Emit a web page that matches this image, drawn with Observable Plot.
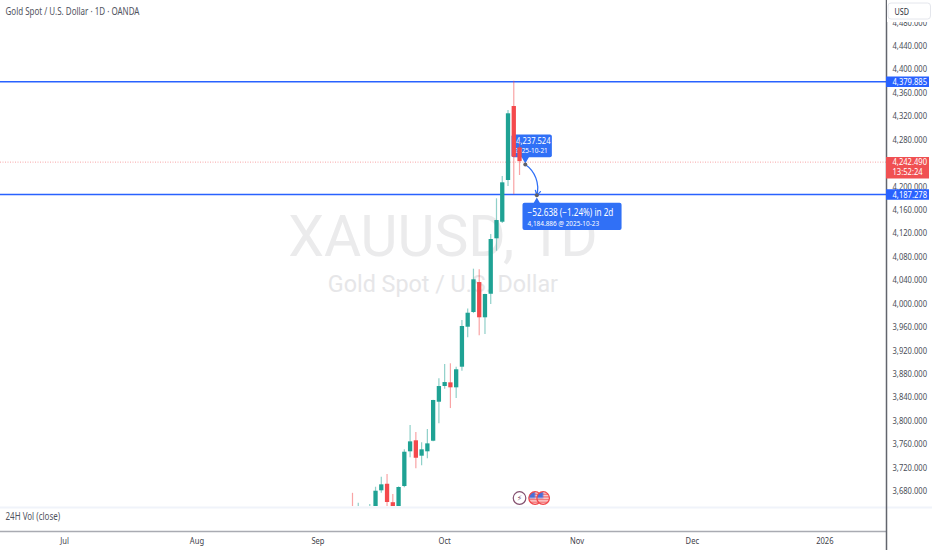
<!DOCTYPE html>
<html><head><meta charset="utf-8">
<script src="https://cdn.jsdelivr.net/npm/d3@7"></script>
<script src="https://cdn.jsdelivr.net/npm/@observablehq/plot@0.6"></script>
<style>html,body{margin:0;padding:0;background:#fff;overflow:hidden}svg{display:block}</style>
</head><body><div id="chart"></div>
<script>
const dates  = ["2025-09-09","2025-09-10","2025-09-11","2025-09-12","2025-09-15","2025-09-16","2025-09-17","2025-09-18","2025-09-19","2025-09-22","2025-09-23","2025-09-24","2025-09-25","2025-09-26","2025-09-29","2025-09-30","2025-10-01","2025-10-02","2025-10-03","2025-10-06","2025-10-07","2025-10-08","2025-10-09","2025-10-10","2025-10-13","2025-10-14","2025-10-15","2025-10-16","2025-10-17","2025-10-20"];
const opens  = [3645,3630,3630,3635,3645,3680.3,3691.5,3660,3645,3687.6,3746.9,3765.7,3739.4,3746.9,3765,3831.6,3858.4,3864.7,3856.2,3891.4,3959.7,3984.8,4036,3975.8,4016,4110.7,4139,4210.3,4336.7,4266];
const highs  = [3676,3659,3652,3657,3686.4,3703.5,3708,3674,3687,3750.3,3791.8,3779.8,3762.3,3785,3835,3871.6,3896,3897.2,3891.4,3971,3991,4058.8,4057.7,4016,4118,4179,4217,4329.8,4379.885,4276];
const lows   = [3625,3620,3622,3625,3640,3676.2,3650,3635,3643,3685.4,3736.6,3718,3722.9,3735,3764,3794.7,3853.8,3820.8,3838,3884.6,3941.6,3983,3945,3947.2,3998.5,4089.5,4136.8,4200,4185.8,4218.8];
const closes = [3635,3645,3645,3648,3679.6,3690.5,3660.3,3645,3686,3746.2,3763.9,3735.9,3750.3,3760.5,3834.5,3858.4,3865.2,3856.2,3887,3960.9,3983.6,4040.7,3975.8,4015.6,4109.5,4141.9,4206.3,4324.2,4250,4242.49];

const levels = [4379.885, 4187.278];
const lastPrice = 4242.49;
const yTicks = [3680,3720,3760,3800,3840,3880,3920,3960,4000,4040,4080,4120,4160,4200,4280,4320,4360,4400,4440,4480];
const monthTicks = [["2025-07-01","Jul"],["2025-08-01","Aug"],["2025-09-01","Sep"],["2025-10-01","Oct"],["2025-11-03","Nov"],["2025-12-01","Dec"],["2026-01-01","2026"]];

// trading-day axis: weekdays only, counted from 1 July 2025
const day0 = Date.UTC(2025,6,1);
function tradingIndex(s){
  const t = Date.parse(s+"T00:00:00Z"); let n = 0;
  for (let d = day0; d < t; d += 864e5){ const w = new Date(d).getUTCDay(); if (w !== 0 && w !== 6) n++; }
  return n;
}
const W = 932, H = 550, mR = 46, mB = 44;
const xMin = -11.11, xMax = 142.71, yMin = 3653.5, yMax = 4517.7;
const pxX = (xMax-xMin)/(W-mR), pxY = (yMax-yMin)/(H-mB);
const xRight = xMin + W*pxX;

const candles = dates.map((d,i)=>({i:tradingIndex(d),o:opens[i],h:highs[i],l:lows[i],c:closes[i]}));
const UP="#1fa294", DOWN="#f4494c", BLUE="#2962ff", BOX="#3070f6", RED="#f05052", GREY="#4a4e57";
const col = d => d.c>=d.o?UP:DOWN;
const fmt = d3.format(",.3f");
const from = {x:tradingIndex("2025-10-21"),y:4237.524}, to = {x:tradingIndex("2025-10-23"),y:4184.886};

const svgPlot = Plot.plot({
  width:W, height:H, marginTop:0, marginLeft:0, marginRight:mR, marginBottom:mB,
  style:{fontFamily:"'Noto Sans',sans-serif",fontSize:"10px",background:"#fff",color:GREY},
  x:{domain:[xMin,xMax]}, y:{domain:[yMin,yMax]},
  marks:[
    // watermark
    Plot.text(["XAUUSD, 1D"],{x:[65.7],y:[4113],fontFamily:"Roboto",fontSize:57,fill:"#ebebec",className:"wm"}),
    Plot.text(["Gold Spot / U.S. Dollar"],{x:[65.7],y:[4033],fontFamily:"Roboto",fontSize:23.3,fill:"#e6e6e8",className:"wm"}),
    // price levels
    Plot.ruleY(levels,{stroke:BLUE,strokeWidth:1.6,dy:.5}),
    Plot.ruleY([lastPrice],{stroke:"#f7a5a6",strokeWidth:1,strokeDasharray:"1,1.5",dy:.5}),
    // pane chrome
    Plot.ruleY([yMin],{stroke:"#f0f3fa",strokeWidth:2,dy:1,x1:xMin,x2:xRight}),
    Plot.ruleY([yMin],{stroke:"#a9abb2",strokeWidth:1.5,dy:25}),
    Plot.ruleX([xMax],{stroke:"#62656d",strokeWidth:1.5,y1:yMax,y2:yMin-mB*pxY}),
    // callouts
    Plot.rect([{a:77.7,b:84.7,t:4288,u:4249}],{x1:"a",x2:"b",y1:"u",y2:"t",fill:BOX,rx:2}),
    Plot.dot([{x:from.x,y:4249}],{x:"x",y:"y",symbol:"triangle",r:3,fill:BOX,rotate:180,dy:1}),
    Plot.text(["4,237.524"],{x:[78.4],y:[4277],textAnchor:"start",fill:"#fff",fontSize:9.5}),
    Plot.text(["2025-10-21"],{x:[78.1],y:[4261],textAnchor:"start",fill:"#fff",fontSize:8}),
    Plot.arrow([{}],{x1:()=>from.x,y1:()=>from.y,x2:()=>to.x,y2:()=>to.y,bend:35,stroke:BOX,strokeWidth:1.3,headLength:6}),
    Plot.dot([from,to],{x:"x",y:"y",r:2,fill:"#5f6169"}),
    Plot.rect([{a:79.6,b:96.8,t:4171.5,u:4125}],{x1:"a",x2:"b",y1:"u",y2:"t",fill:BOX,rx:2}),
    Plot.dot([{x:to.x,y:4171.5}],{x:"x",y:"y",symbol:"triangle",r:3,fill:BOX,dy:-1}),
    Plot.text(["\u221252.638 (\u22121.24%) in 2d"],{x:[80.4],y:[4156],textAnchor:"start",fill:"#fff",fontSize:10.2}),
    Plot.text(["4,184.886 @ 2025-10-23"],{x:[80.4],y:[4137],textAnchor:"start",fill:"#fff",fontSize:8}),
    // candles
    Plot.ruleX(candles,{x:"i",y1:"l",y2:"h",stroke:col,strokeOpacity:.5,strokeWidth:1.2,clip:true}),
    Plot.ruleX(candles,{x:"i",y1:"o",y2:"c",stroke:col,strokeWidth:4.3,clip:true}),
    // event icons
    Plot.dot([{x:79,y:3668}],{x:"x",y:"y",r:6.3,fill:"#fff",stroke:"#84506f",strokeWidth:1.2}),
    Plot.text(["\u26a1"],{x:[79],y:[3668],fontFamily:"DejaVu Sans",fontSize:8,fill:"#84506f",className:"wm"}),
    Plot.dot([{x:81.7,y:3668},{x:83.1,y:3668}],{x:"x",y:"y",r:6.3,fill:"url(#usflag)",stroke:"#f0474a",strokeWidth:1.2}),
    // axes
    Plot.axisX(monthTicks.map(d=>tradingIndex(d[0])),{anchor:"bottom",tickSize:0,tickPadding:31,tickFormat:(d,i)=>monthTicks[i][1],fill:"#3f424a",fontSize:9.5}),
    Plot.axisY(yTicks,{anchor:"right",tickSize:0,tickPadding:6,tickFormat:fmt,fill:"#4a4e57",fontSize:9.5}),
    // price tags
    Plot.ruleY(levels,{x1:xMax,x2:xMax+43*pxX,stroke:BLUE,strokeWidth:10.5,dy:.5}),
    Plot.text(levels,{y:d=>d,x:()=>xMax+6*pxX,text:fmt,dy:.5,textAnchor:"start",fill:"#fff",fontSize:9.5}),
    Plot.ruleY([lastPrice],{x1:xMax,x2:xMax+43*pxX,stroke:RED,strokeWidth:21.5,dy:6}),
    Plot.text([lastPrice],{y:d=>d,x:()=>xMax+6*pxX,text:fmt,dy:.5,textAnchor:"start",fill:"#fff",fontSize:9.5}),
    Plot.text(["13:52:24"],{y:[lastPrice],x:[xMax+6*pxX],dy:10.5,textAnchor:"start",fill:"#fff",fontSize:9.5}),
    // currency box
    Plot.ruleY([yMax],{x1:xMax+1*pxX,x2:xMax+46*pxX,stroke:"#fff",strokeWidth:43}),
    Plot.rect([{}],{x1:()=>xMax+2*pxX,x2:()=>xMax+44.5*pxX,y1:()=>yMax-19*pxY,y2:()=>yMax-3*pxY,fill:"#fff",stroke:"#e4e6ec",rx:3}),
    Plot.text(["USD"],{x:[xMax+8*pxX],y:[yMax-12*pxY],textAnchor:"start",fill:"#2a2e39",fontSize:9}),
    // pane texts
    Plot.text(["Gold Spot / U.S. Dollar \u00b7 1D \u00b7 OANDA"],{frameAnchor:"top-left",dx:5,dy:7,textAnchor:"start",fill:"#50535e",fontSize:10,lineAnchor:"top"}),
    Plot.text(["24H Vol (close)"],{frameAnchor:"bottom-left",dx:5,dy:13,textAnchor:"start",fill:"#50535e",fontSize:10})
  ]
});
document.getElementById("chart").append(svgPlot);
// the reference's face is condensed: narrow the real text horizontally to match
d3.select(svgPlot).selectAll("text").each(function(){
  if (this.closest(".wm")) return;
  const t = this.getAttribute("transform");
  if (t && !this.hasAttribute("x")) this.setAttribute("transform", t+" scale(0.8,1)");
  else if (this.getComputedTextLength() > 0) { this.setAttribute("textLength", this.getComputedTextLength()*0.8); this.setAttribute("lengthAdjust","spacingAndGlyphs"); }
});
// stars-and-stripes fill for the economic event icons
const defs = d3.select(svgPlot).insert("defs",":first-child");
const p = defs.append("pattern").attr("id","usflag").attr("patternUnits","objectBoundingBox").attr("width",1).attr("height",1).attr("viewBox","0 0 14 14");
p.append("rect").attr("width",14).attr("height",14).attr("fill","#fff");
[2,5,8,11].forEach(y=>p.append("rect").attr("y",y).attr("width",14).attr("height",1.5).attr("fill","#f0474a"));
p.append("rect").attr("width",7).attr("height",7).attr("fill","#4a6fd8");
</script></body></html>
